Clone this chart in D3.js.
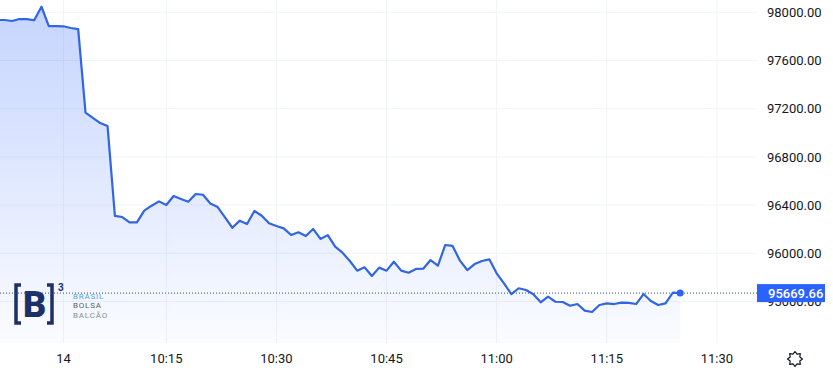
<!DOCTYPE html>
<html>
<head>
<meta charset="utf-8">
<script src="https://cdn.jsdelivr.net/npm/d3@7"></script>
<style>
  html, body { margin: 0; padding: 0; background: #ffffff; }
  svg { display: block; font-family: Roboto, "Open Sans", sans-serif; }
</style>
</head>
<body>
<svg id="chart" width="833" height="370"></svg>
<script>
// previous session's last bars (1-minute), drawn left of the "14" day mark
const prevDay = [97936, 97936, 97928, 97944, 97944, 97934, 98046, 97886, 97885];

// day 14, one value per minute bar
const today = [
  97884, 97870, 97861, 97167, 97123, 97081, 97056, 96310, 96301, 96257,
  96257, 96354, 96395, 96431, 96401, 96476, 96451, 96428, 96492, 96486,
  96413, 96384, 96299, 96212, 96271, 96243, 96351, 96312, 96249, 96226,
  96207, 96152, 96174, 96144, 96202, 96119, 96151, 96055, 96005, 95936,
  95856, 95884, 95812, 95881, 95856, 95930, 95856, 95839, 95870, 95872,
  95944, 95897, 96069, 96061, 95939, 95861, 95911, 95936, 95950, 95834,
  95751, 95662, 95710, 95695, 95660, 95593, 95640, 95598, 95596, 95565,
  95579, 95524, 95513, 95571, 95585, 95579, 95590, 95588, 95579, 95662,
  95604, 95571, 95585, 95673, 95669.66
];

// time axis labels and the bar they sit on
const timeLabels = ["14", "10:15", "10:30", "10:45", "11:00", "11:15", "11:30"];
const timeBars = [0, 14, 29, 44, 59, 74, 89];

// price axis ticks
const priceTicks = [95600, 96000, 96400, 96800, 97200, 97600, 98000];

const lastPrice = today[today.length - 1];

let PANE_RIGHT = 757,
    PANE_BOTTOM = 343;

let svg = d3.select("#chart");

let xScale = d3.scaleLinear().domain([0, 89]).range([63.5, 716.9]),
    yScale = d3.scaleLinear().domain([95600, 98000]).range([301.5, 12.3]);

let points = prevDay.map((v, i) => ({bar: i - prevDay.length, v: v}))
    .concat(today.map((v, i) => ({bar: i, v: v})));

// gradient under the line
let defs = svg.append("defs");
let grad = defs.append("linearGradient")
    .attr("id", "areaFill")
    .attr("gradientUnits", "userSpaceOnUse")
    .attr("x1", 0).attr("y1", 5)
    .attr("x2", 0).attr("y2", PANE_BOTTOM);
grad.append("stop").attr("offset", 0).attr("stop-color", "#2962ff").attr("stop-opacity", 0.27);
grad.append("stop").attr("offset", 1).attr("stop-color", "#2962ff").attr("stop-opacity", 0.02);

defs.append("clipPath").attr("id", "pane")
    .append("rect").attr("x", 0).attr("y", 0).attr("width", PANE_RIGHT).attr("height", PANE_BOTTOM);

// grid
let grid = svg.append("g");
grid.selectAll("line.h").data(priceTicks).enter()
    .append("line")
    .attr("x1", 0).attr("x2", PANE_RIGHT)
    .attr("y1", d => yScale(d)).attr("y2", d => yScale(d))
    .attr("stroke", "#f0f3fa").attr("stroke-width", 1);
grid.selectAll("line.v").data(timeBars).enter()
    .append("line")
    .attr("x1", d => xScale(d)).attr("x2", d => xScale(d))
    .attr("y1", 0).attr("y2", PANE_BOTTOM)
    .attr("stroke", "#f0f3fa").attr("stroke-width", 1);

// logo (behind the series)
let logo = svg.append("g").attr("class", "logo");
logo.append("path")
    .attr("d", "M21,285 H16 V323 H21")
    .attr("fill", "none").attr("stroke", "#1b2e5c").attr("stroke-width", 3.5);
logo.append("path")
    .attr("d", "M47,285 H52 V323 H47")
    .attr("fill", "none").attr("stroke", "#1b2e5c").attr("stroke-width", 3.5);
logo.append("text")
    .attr("x", 34.5).attr("y", 317)
    .attr("text-anchor", "middle")
    .attr("font-size", 36).attr("font-weight", 900)
    .attr("fill", "#1b2e5c")
    .text("B");
logo.append("text")
    .attr("x", 58).attr("y", 291)
    .attr("font-size", 10).attr("font-weight", 700)
    .attr("fill", "#1b2e5c")
    .text("3");
// small stacked words, kept tight so they don't collide
[["BRASIL", "#5aa7dc"], ["BOLSA", "#5b5f66"], ["BALCÃO", "#8a8f98"]].forEach((w, i) => {
    logo.append("text")
        .attr("x", 73).attr("y", 298.5 + i * 9.6)
        .attr("font-size", 8)
        .attr("letter-spacing", 0.8)
        .attr("fill", w[1])
        .text(w[0]);
});

let pane = svg.append("g").attr("clip-path", "url(#pane)");

let areaGen = d3.area()
    .x(d => xScale(d.bar))
    .y0(PANE_BOTTOM)
    .y1(d => yScale(d.v));
pane.append("path")
    .attr("d", areaGen(points))
    .attr("fill", "url(#areaFill)");

// last price dotted line
pane.append("line")
    .attr("x1", 0).attr("x2", PANE_RIGHT)
    .attr("y1", yScale(lastPrice)).attr("y2", yScale(lastPrice))
    .attr("stroke", "#2a4a8f").attr("stroke-width", 1)
    .attr("stroke-dasharray", "1,2");

let lineGen = d3.line()
    .x(d => xScale(d.bar))
    .y(d => yScale(d.v));
pane.append("path")
    .attr("d", lineGen(points))
    .attr("fill", "none")
    .attr("stroke", "#3165e2")
    .attr("stroke-width", 2.2)
    .attr("stroke-linejoin", "round");

pane.append("circle")
    .attr("cx", xScale(today.length - 1))
    .attr("cy", yScale(lastPrice))
    .attr("r", 3.5)
    .attr("fill", "#2962ff");

// price axis
svg.append("g").selectAll("text").data(priceTicks).enter()
    .append("text")
    .attr("x", 767)
    .attr("y", d => yScale(d))
    .attr("dy", "0.36em")
    .attr("font-size", 13)
    .attr("fill", "#131722")
    .text(d => d3.format(".2f")(d));

// last price label
svg.append("rect")
    .attr("x", 757).attr("y", yScale(lastPrice) - 9)
    .attr("width", 68).attr("height", 18)
    .attr("fill", "#2962ff");
svg.append("text")
    .attr("x", 768).attr("y", yScale(lastPrice))
    .attr("dy", "0.36em")
    .attr("font-size", 13).attr("font-weight", 500)
    .attr("fill", "#ffffff")
    .text(d3.format(".2f")(lastPrice));

// time axis
svg.append("g").selectAll("text").data(timeBars).enter()
    .append("text")
    .attr("x", d => xScale(d))
    .attr("y", 362.5)
    .attr("text-anchor", "middle")
    .attr("font-size", 13)
    .attr("fill", "#131722")
    .text((d, i) => timeLabels[i]);

// settings gear
let gear = d3.path();
let cx = 795, cy = 359, rOut = 7.5, rIn = 5.2, teeth = 8;
for (let i = 0; i < teeth * 2; i++) {
    let a = (i / (teeth * 2)) * Math.PI * 2 - Math.PI / 2;
    let r = i % 2 === 0 ? rOut : rIn;
    let px = cx + r * Math.cos(a), py = cy + r * Math.sin(a);
    if (i === 0) gear.moveTo(px, py); else gear.lineTo(px, py);
}
gear.closePath();
svg.append("path")
    .attr("d", gear.toString())
    .attr("fill", "none")
    .attr("stroke", "#131722")
    .attr("stroke-width", 1.2)
    .attr("stroke-linejoin", "round");
</script>
</body>
</html>
